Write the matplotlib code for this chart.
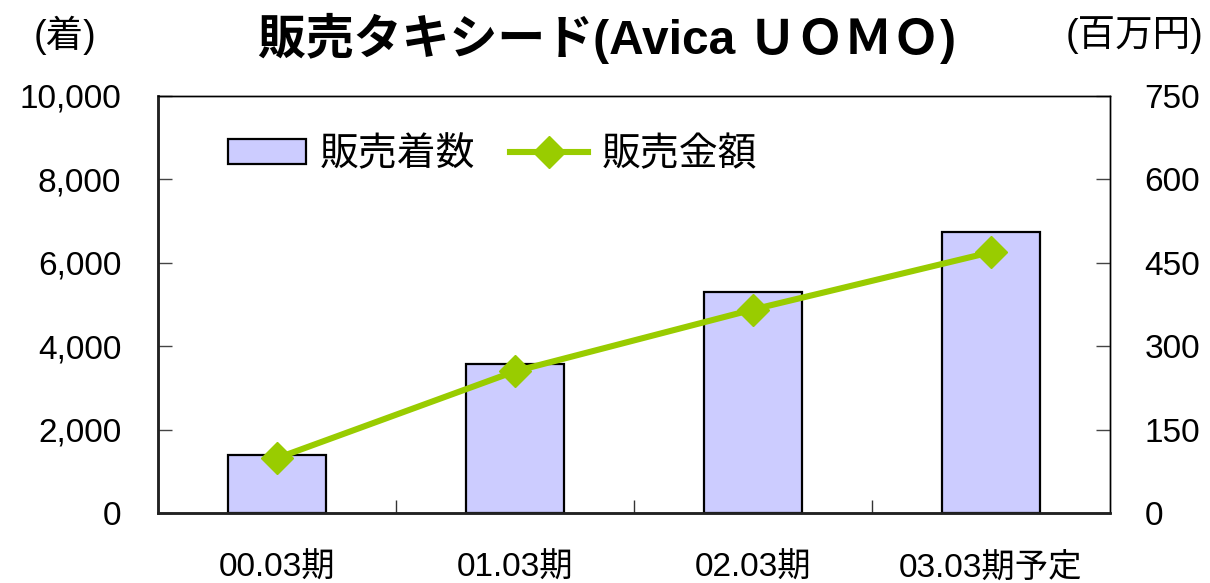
import matplotlib
matplotlib.use("Agg")
import matplotlib.pyplot as plt
from matplotlib.ticker import FuncFormatter, FixedLocator

plt.rcParams['font.family'] = ['Liberation Sans', 'Noto Sans CJK JP', 'DejaVu Sans']

categories = ['00.03期', '01.03期', '02.03期', '03.03期予定']
units_sold = [1390, 3580, 5310, 6730]        # 販売着数 (着)
sales_amount = [99, 255, 366, 469]           # 販売金額 (百万円)
left_ticks = [0, 2000, 4000, 6000, 8000, 10000]
right_ticks = [0, 150, 300, 450, 600, 750]

BAR_COLOR = '#CCCCFF'
LINE_COLOR = '#99CC00'
FS = 24

fig = plt.figure(figsize=(12.10, 5.83), dpi=100)
ax = fig.add_axes([158/1210, 1-513.3/583, (1110-158)/1210, (513.3-95.7)/583])
ax2 = ax.twinx()

x = list(range(len(categories)))
bars = ax.bar(x, units_sold, width=0.41, color=BAR_COLOR, edgecolor='black',
              linewidth=1.6, label='販売着数', zorder=2)
line, = ax2.plot(x, sales_amount, color=LINE_COLOR, linewidth=4.4, marker='D',
                 markersize=16.5, markerfacecolor=LINE_COLOR,
                 markeredgecolor=LINE_COLOR, label='販売金額', zorder=3)

ax.set_xlim(-0.5, len(categories) - 0.5)
ax.set_ylim(left_ticks[0], left_ticks[-1])
ax2.set_ylim(right_ticks[0], right_ticks[-1])

ax.set_yticks(left_ticks)
ax.yaxis.set_major_formatter(FuncFormatter(lambda v, p: f'{int(v):,}'))
ax2.set_yticks(right_ticks)

ax.set_xticks(x)
ax.set_xticklabels(categories)
ax.xaxis.set_minor_locator(FixedLocator([i + 0.5 for i in x[:-1]]))

ax.tick_params(axis='x', which='major', length=0, pad=28, labelsize=FS)
ax.tick_params(axis='x', which='minor', direction='in', length=9.5,
               width=1.0, color='#333333')
ax.tick_params(axis='y', direction='in', length=10, width=1.0,
               color='#444444', pad=26.5, labelsize=FS)
ax2.tick_params(axis='y', direction='in', length=10, width=1.0,
                color='#444444', pad=25, labelsize=FS)

for a in (ax, ax2):
    a.spines['left'].set_linewidth(1.8)
    a.spines['left'].set_color('#222222')
    a.spines['bottom'].set_linewidth(1.8)
    a.spines['bottom'].set_color('#222222')
    a.spines['top'].set_linewidth(1.0)
    a.spines['top'].set_color('black')
    a.spines['right'].set_linewidth(1.0)
    a.spines['right'].set_color('black')

ax2.legend(handles=[bars, line], labels=['販売着数', '販売金額'], ncol=2,
           loc='center left',
           bbox_to_anchor=((228-158)/952, 1-(155-95.7)/417.6),
           frameon=False, fontsize=28, handlelength=2.0, handleheight=0.6,
           handletextpad=0.35, columnspacing=0.9, borderpad=0,
           borderaxespad=0)

fig.text(0.502, 1-38/583, '販売タキシード(Avica ＵＯＭＯ)', ha='center', va='center',
         fontsize=34.5, fontweight='bold')
fig.text(65/1210, 1-35/583, '(着)', ha='center', va='center', fontsize=27)
fig.text(1134/1210, 1-35/583, '(百万円)', ha='center', va='center', fontsize=27)

fig.savefig('out.png', dpi=100)
